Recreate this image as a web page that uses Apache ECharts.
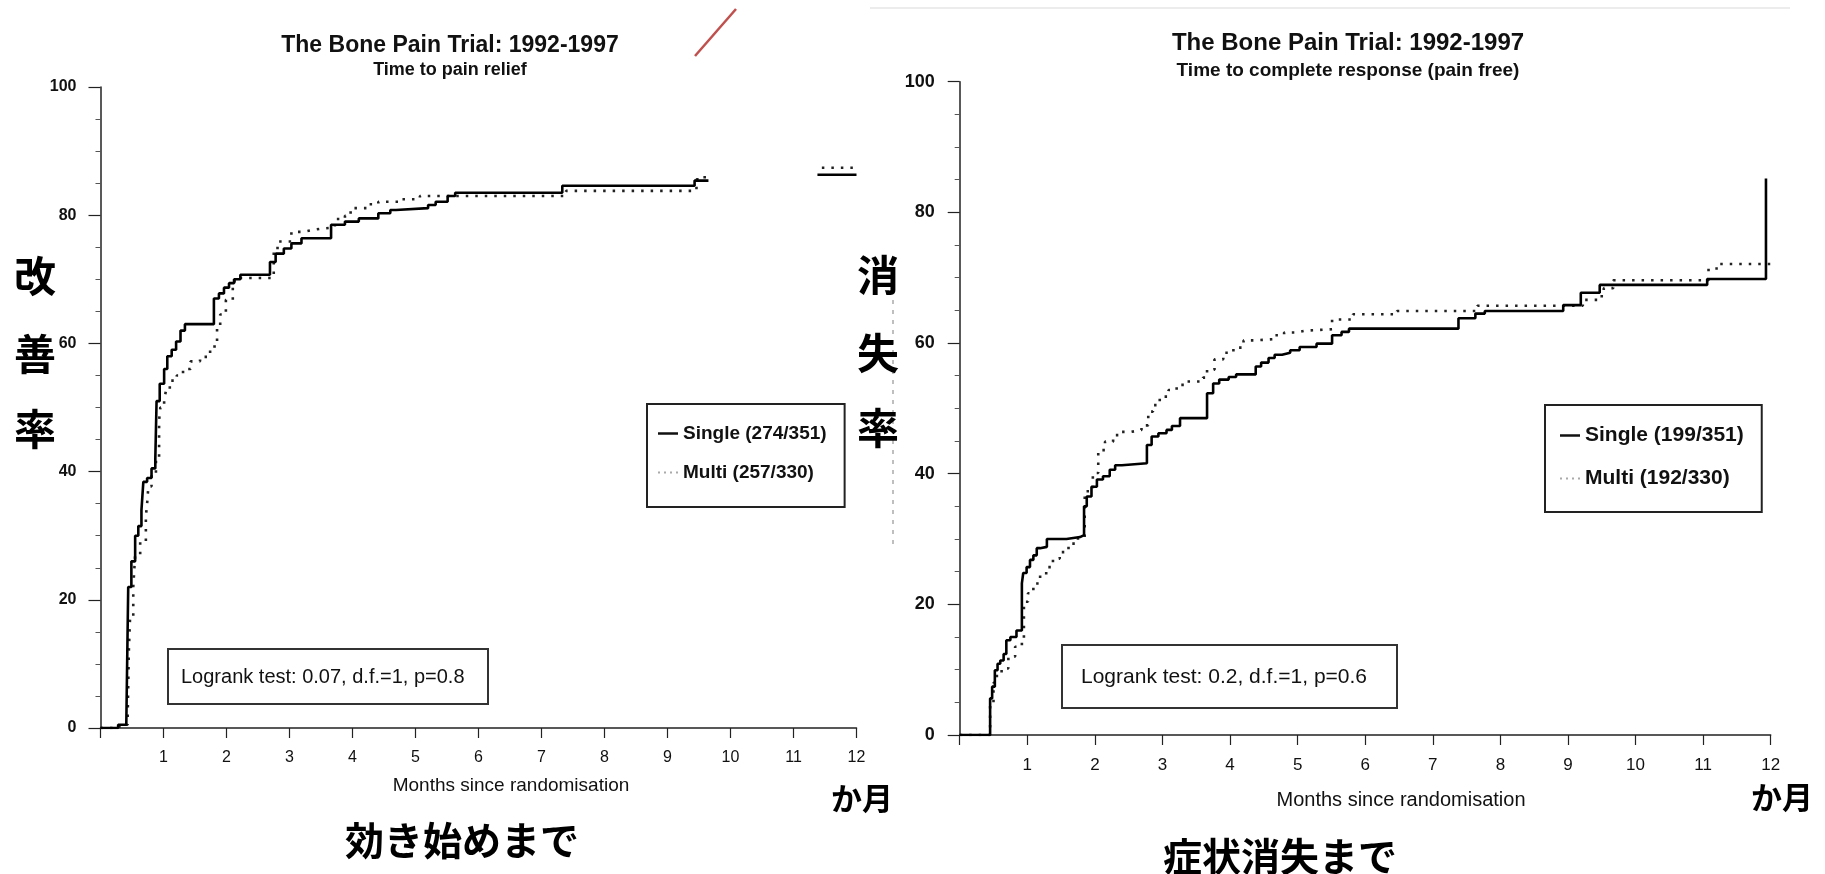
<!DOCTYPE html>
<html>
<head>
<meta charset="utf-8">
<script src="https://cdn.jsdelivr.net/npm/echarts@6/dist/echarts.min.js"></script>
<style>
html,body{margin:0;padding:0;background:#fff;}
#c{width:1825px;height:874px;}
</style>
</head>
<body>
<div id="c"></div>
<script>
// ---------- data (months, cumulative %) ----------
const xTicks = [0,1,2,3,4,5,6,7,8,9,10,11,12];
const yTicks = [0,20,40,60,80,100];

const leftSingle = [[0,0],[0.28,0.5],[0.41,1],[0.44,22],[0.49,26],[0.55,30],[0.6,31.5],[0.65,34],[0.68,38.4],[0.74,39],[0.81,40.5],[0.87,42],[0.89,51],[0.94,53.7],[1.01,56],[1.06,58],[1.13,59],[1.2,60.3],[1.27,62],[1.34,63],[1.8,67],[1.88,67.8],[1.96,68.7],[2.04,69.4],[2.12,70],[2.22,70.7],[2.69,72.7],[2.78,74],[2.91,74.8],[3.03,75.6],[3.19,76.4],[3.66,78.5],[3.88,79],[4.1,79.5],[4.41,80.3],[4.6,80.8],[4.69,81.1],[5.2,81.6],[5.32,82.1],[5.51,83.0],[5.63,83.5],[7.33,84.6],[9.43,85.4],[9.65,85.4],['-','-'],[11.38,86.3],[12,86.3]];
const leftMulti = [[0,0],[0.3,0.5],[0.43,1],[0.45,12],[0.47,17.5],[0.52,22],[0.55,27],[0.63,29],[0.72,33],[0.74,35],[0.76,37.7],[0.81,39.5],[0.88,42],[0.93,48],[0.95,50],[1.01,51],[1.04,52.7],[1.1,54.2],[1.21,55],[1.31,56],[1.43,57.2],[1.58,57.9],[1.74,59],[1.81,60.3],[1.85,62.4],[1.9,64.5],[1.99,66.8],[2.1,69.7],[2.19,70.2],[2.75,74.6],[2.81,75.9],[3.03,77.4],[3.22,77.7],[3.37,77.9],[3.5,78.1],[3.72,79.4],[3.88,79.9],[3.97,81.1],[4.26,81.7],[4.41,82.1],[4.76,82.5],[5.07,83.0],[7.39,83.8],[9.46,85.6],[9.59,86.5],[9.65,86.5],['-','-'],[11.45,87.4],[12,87.4]];

const rightSingle = [[0,0],[0.45,5.6],[0.48,7.4],[0.52,9.9],[0.56,10.9],[0.6,11.4],[0.65,12.4],[0.69,14.5],[0.75,15.0],[0.84,16.0],[0.92,23.2],[0.94,24.8],[0.99,25.7],[1.04,26.8],[1.09,27.5],[1.14,28.6],[1.19,28.8],[1.29,30.0],[1.58,30.3],[1.78,30.6],[1.84,35.0],[1.88,36.5],[1.95,38.0],[2.03,39.1],[2.12,39.6],[2.22,40.6],[2.3,41.3],[2.4,41.6],[2.77,44.4],[2.84,45.7],[2.94,46.2],[3.06,46.7],[3.14,47.3],[3.26,48.5],[3.66,52.3],[3.75,53.8],[3.84,54.4],[3.98,54.8],[4.09,55.2],[4.38,56.4],[4.46,57.0],[4.57,57.7],[4.66,58.2],[4.77,58.5],[4.89,58.9],[5.03,59.4],[5.28,59.9],[5.51,61.2],[5.65,61.7],[5.76,62.2],[7.38,63.8],[7.63,64.5],[7.77,64.9],[8.93,65.8],[9.19,67.7],[9.47,68.9],[11.06,69.8],[11.93,85.2]];
const rightMulti = [[0,0],[0.45,5.0],[0.5,8.0],[0.55,9.5],[0.62,10.2],[0.72,12.0],[0.82,13.5],[0.92,14.5],[0.95,20.4],[1.01,21.7],[1.09,23.2],[1.19,24.5],[1.28,25.7],[1.38,27.0],[1.48,28.0],[1.61,29.3],[1.75,30.3],[1.85,37.3],[1.97,40.1],[2.05,43.6],[2.15,44.9],[2.27,45.9],[2.4,46.4],[2.54,46.7],[2.69,47.4],[2.79,49.5],[2.86,50.5],[2.96,51.8],[3.09,52.8],[3.21,53.6],[3.33,54.1],[3.6,54.7],[3.66,55.9],[3.77,57.5],[3.9,58.5],[4.05,59.3],[4.2,60.4],[4.35,60.6],[4.66,61.2],[4.8,61.6],[4.97,61.9],[5.11,62.1],[5.51,63.6],[5.82,64.4],[6.47,64.9],[7.66,65.7],[9.22,66.6],[9.5,67.7],[9.53,68.4],[9.67,69.6],[11.08,71.4],[11.23,72.1],[12,72.1]];

const titleText = 'The Bone Pain Trial: 1992-1997';
const leftSub = 'Time to pain relief';
const rightSub = 'Time to complete response (pain free)';
const xName = 'Months since randomisation';
const leftLegend = ['Single (274/351)','Multi (257/330)'];
const rightLegend = ['Single (199/351)','Multi (192/330)'];
const leftLogrank = 'Logrank test: 0.07, d.f.=1, p=0.8';
const rightLogrank = 'Logrank test: 0.2, d.f.=1, p=0.6';
const leftYName = '改善率';
const rightYName = '消失率';
const unitText = 'か月';
const leftCaption = '効き始めまで';
const rightCaption = '症状消失まで';

// ---------- chart ----------
const F = '"Liberation Sans", Arial, sans-serif';
const J = '"Noto Sans CJK JP", sans-serif';
const chart = echarts.init(document.getElementById('c'), null, {renderer:'canvas'});

const DOTS_ICON = 'path://M0,0h2v2h-2zM6,0h2v2h-2zM12,0h2v2h-2zM18,0h2v2h-2z';

function xAxisCfg(gi, fs){
  return {
    type:'value', gridIndex:gi, min:xTicks[0], max:xTicks[xTicks.length-1], interval:1,
    axisLine:{show:true, lineStyle:{color:'#222', width:1.5}},
    axisTick:{show:true, length:10, lineStyle:{color:'#222', width:1.2}},
    axisLabel:{margin:22, fontSize:fs, color:'#111', fontFamily:F,
      formatter:function(v){return v===0?'':String(v);}},
    splitLine:{show:false}
  };
}
function yAxisCfg(gi, fs, margin){
  return {
    type:'value', gridIndex:gi, min:yTicks[0], max:yTicks[yTicks.length-1], interval:20,
    axisLine:{show:true, lineStyle:{color:'#222', width:1.5}},
    axisTick:{show:true, length:12, lineStyle:{color:'#222', width:1.2}},
    minorTick:{show:true, splitNumber:4, length:5, lineStyle:{color:'#555', width:1}},
    axisLabel:{margin:margin, fontSize:fs, fontWeight:'bold', color:'#111', fontFamily:F},
    splitLine:{show:false}, minorSplitLine:{show:false}
  };
}
function solid(name, data, xi){
  return {name:name, type:'line', xAxisIndex:xi, yAxisIndex:xi, data:data, step:'end',
    symbol:'none', showSymbol:false, connectNulls:false, z:3,
    lineStyle:{color:'#000', width:2.6}, itemStyle:{color:'#000'}};
}
function dotted(name, data, xi){
  return {name:name, type:'line', xAxisIndex:xi, yAxisIndex:xi, data:data, step:'end',
    symbol:'none', showSymbol:false, connectNulls:false, z:2,
    lineStyle:{color:'#222', width:2.6, type:[2.5,7], cap:'butt'}, itemStyle:{color:'#222'}};
}
function txt(t, x, y, font, align, color){
  return {type:'text', x:x, y:y, z:50, style:{text:t, font:font, fill:color||'#111',
    textAlign:align||'center', textVerticalAlign:'middle'}};
}
function legendData(names){
  return [
    {name:names[0], icon:'rect', itemStyle:{color:'#111'}},
    {name:names[1], icon:DOTS_ICON, itemStyle:{color:'#aaa'}}
  ];
}

const graphics = [
  // stray marks in the source image
  {type:'line', z:1, shape:{x1:870,y1:8,x2:1790,y2:8}, style:{stroke:'#ececec', lineWidth:2}},
  {type:'line', z:1, shape:{x1:736,y1:9,x2:695,y2:56}, style:{stroke:'#c0504d', lineWidth:2.5}},
  {type:'line', z:1, shape:{x1:893,y1:300,x2:893,y2:545}, style:{stroke:'#aaa', lineWidth:1.5, lineDash:[4,6]}},
  // titles
  txt(titleText, 450, 46, 'bold 23px '+F),
  txt(leftSub, 450, 70, 'bold 18px '+F),
  txt(titleText, 1348, 43, 'bold 24px '+F),
  txt(rightSub, 1348, 71, 'bold 19px '+F),
  // axis names
  txt(xName, 511, 786, '19px '+F),
  txt(xName, 1401, 800, '20px '+F),
  // logrank boxes
  {type:'rect', z:40, shape:{x:168,y:649,width:320,height:55}, style:{fill:'#fff', stroke:'#333', lineWidth:2}},
  txt(leftLogrank, 181, 677, '20px '+F, 'left'),
  {type:'rect', z:40, shape:{x:1062,y:645,width:335,height:63}, style:{fill:'#fff', stroke:'#333', lineWidth:2}},
  txt(rightLogrank, 1081, 677, '21px '+F, 'left'),
  // Japanese annotations
  txt(unitText, 862, 798, 'bold 31px '+J, 'center', '#000'),
  txt(unitText, 1782, 797, 'bold 31px '+J, 'center', '#000'),
  txt(leftCaption, 462, 840, 'bold 39px '+J, 'center', '#000'),
  txt(rightCaption, 1280, 856, 'bold 39px '+J, 'center', '#000')
];
const yNameYs = [276, 354, 429];
for (let i=0;i<3;i++){
  graphics.push(txt(leftYName[i], 35, yNameYs[i], 'bold 42px '+J, 'center', '#000'));
  graphics.push(txt(rightYName[i], 878, yNameYs[i]-1, 'bold 42px '+J, 'center', '#000'));
}

const option = {
  animation:false,
  backgroundColor:'#fff',
  grid:[
    {left:100.5, top:87, width:756, height:641},
    {left:959.7, top:81.7, width:811, height:653.3}
  ],
  xAxis:[xAxisCfg(0,16), xAxisCfg(1,17)],
  yAxis:[yAxisCfg(0,16,24), yAxisCfg(1,18,25)],
  legend:[
    {data:legendData(leftLegend), orient:'vertical', left:647, top:404, padding:[20,18,25,11],
     itemGap:20, itemWidth:20, itemHeight:2.5, borderColor:'#222', borderWidth:2,
     backgroundColor:'#fff', z:40,
     textStyle:{fontSize:19, fontWeight:'bold', color:'#111', fontFamily:F}},
    {data:legendData(rightLegend), orient:'vertical', left:1545, top:405, padding:[20,18,23,15],
     itemGap:22, itemWidth:20, itemHeight:2.5, borderColor:'#222', borderWidth:2,
     backgroundColor:'#fff', z:40,
     textStyle:{fontSize:21, fontWeight:'bold', color:'#111', fontFamily:F}}
  ],
  series:[
    solid(leftLegend[0], leftSingle, 0),
    dotted(leftLegend[1], leftMulti, 0),
    solid(rightLegend[0], rightSingle, 1),
    dotted(rightLegend[1], rightMulti, 1)
  ],
  graphic:{elements:graphics}
};
chart.setOption(option);
</script>
</body>
</html>
